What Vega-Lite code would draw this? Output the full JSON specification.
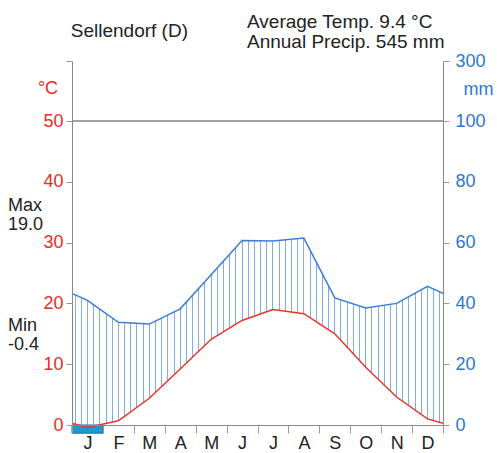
{
  "$schema": "https://vega.github.io/schema/vega-lite/v6.json",
  "width": 371,
  "height": 364,
  "autosize": "none",
  "padding": {"left": 72, "top": 61, "right": 54, "bottom": 28},
  "config": {"view": {"stroke": null}, "font": "Liberation Sans", "text": {"font": "Liberation Sans"}, "axis": {"labelOverlap": false, "labelFlush": false, "labelBound": false, "grid": false}},
  "data": {"values": [
    {"m": 0, "temp": 0.3, "precip": 43.3},
    {"m": 0.5, "temp": -0.4, "precip": 41.0},
    {"m": 1.5, "temp": 0.7, "precip": 33.8},
    {"m": 2.5, "temp": 4.4, "precip": 33.2},
    {"m": 3.5, "temp": 9.2, "precip": 38.2},
    {"m": 4.5, "temp": 14.1, "precip": 49.4},
    {"m": 5.5, "temp": 17.2, "precip": 60.7},
    {"m": 6.5, "temp": 19.0, "precip": 60.5},
    {"m": 7.5, "temp": 18.3, "precip": 61.5},
    {"m": 8.5, "temp": 15.0, "precip": 41.8},
    {"m": 9.5, "temp": 9.5, "precip": 38.5},
    {"m": 10.5, "temp": 4.6, "precip": 40.0},
    {"m": 11.5, "temp": 1.0, "precip": 45.6},
    {"m": 12, "temp": 0.3, "precip": 43.3}
  ]},
  "resolve": {"scale": {"y": "independent"}},
  "layer": [
    {
      "layer": [
        {
          "mark": {"type": "area", "line": false, "stroke": null, "fillOpacity": 1, "fill": {"gradient": "linear", "x1": 0, "y1": 0, "x2": 1, "y2": 0, "stops": [
            {"offset":0.00698,"color":"#ffffff"},{"offset":0.00698,"color":"#7eacea"},{"offset":0.00968,"color":"#7eacea"},{"offset":0.00968,"color":"#ffffff"},
            {"offset":0.02365,"color":"#ffffff"},{"offset":0.02365,"color":"#7eacea"},{"offset":0.02635,"color":"#7eacea"},{"offset":0.02635,"color":"#ffffff"},
            {"offset":0.04032,"color":"#ffffff"},{"offset":0.04032,"color":"#7eacea"},{"offset":0.04302,"color":"#7eacea"},{"offset":0.04302,"color":"#ffffff"},
            {"offset":0.05698,"color":"#ffffff"},{"offset":0.05698,"color":"#7eacea"},{"offset":0.05968,"color":"#7eacea"},{"offset":0.05968,"color":"#ffffff"},
            {"offset":0.07365,"color":"#ffffff"},{"offset":0.07365,"color":"#7eacea"},{"offset":0.07635,"color":"#7eacea"},{"offset":0.07635,"color":"#ffffff"},
            {"offset":0.09032,"color":"#ffffff"},{"offset":0.09032,"color":"#7eacea"},{"offset":0.09302,"color":"#7eacea"},{"offset":0.09302,"color":"#ffffff"},
            {"offset":0.10698,"color":"#ffffff"},{"offset":0.10698,"color":"#7eacea"},{"offset":0.10968,"color":"#7eacea"},{"offset":0.10968,"color":"#ffffff"},
            {"offset":0.12365,"color":"#ffffff"},{"offset":0.12365,"color":"#7eacea"},{"offset":0.12635,"color":"#7eacea"},{"offset":0.12635,"color":"#ffffff"},
            {"offset":0.14032,"color":"#ffffff"},{"offset":0.14032,"color":"#7eacea"},{"offset":0.14302,"color":"#7eacea"},{"offset":0.14302,"color":"#ffffff"},
            {"offset":0.15698,"color":"#ffffff"},{"offset":0.15698,"color":"#7eacea"},{"offset":0.15968,"color":"#7eacea"},{"offset":0.15968,"color":"#ffffff"},
            {"offset":0.17365,"color":"#ffffff"},{"offset":0.17365,"color":"#7eacea"},{"offset":0.17635,"color":"#7eacea"},{"offset":0.17635,"color":"#ffffff"},
            {"offset":0.19032,"color":"#ffffff"},{"offset":0.19032,"color":"#7eacea"},{"offset":0.19302,"color":"#7eacea"},{"offset":0.19302,"color":"#ffffff"},
            {"offset":0.20698,"color":"#ffffff"},{"offset":0.20698,"color":"#7eacea"},{"offset":0.20968,"color":"#7eacea"},{"offset":0.20968,"color":"#ffffff"},
            {"offset":0.22365,"color":"#ffffff"},{"offset":0.22365,"color":"#7eacea"},{"offset":0.22635,"color":"#7eacea"},{"offset":0.22635,"color":"#ffffff"},
            {"offset":0.24032,"color":"#ffffff"},{"offset":0.24032,"color":"#7eacea"},{"offset":0.24302,"color":"#7eacea"},{"offset":0.24302,"color":"#ffffff"},
            {"offset":0.25698,"color":"#ffffff"},{"offset":0.25698,"color":"#7eacea"},{"offset":0.25968,"color":"#7eacea"},{"offset":0.25968,"color":"#ffffff"},
            {"offset":0.27365,"color":"#ffffff"},{"offset":0.27365,"color":"#7eacea"},{"offset":0.27635,"color":"#7eacea"},{"offset":0.27635,"color":"#ffffff"},
            {"offset":0.29032,"color":"#ffffff"},{"offset":0.29032,"color":"#7eacea"},{"offset":0.29302,"color":"#7eacea"},{"offset":0.29302,"color":"#ffffff"},
            {"offset":0.30698,"color":"#ffffff"},{"offset":0.30698,"color":"#7eacea"},{"offset":0.30968,"color":"#7eacea"},{"offset":0.30968,"color":"#ffffff"},
            {"offset":0.32365,"color":"#ffffff"},{"offset":0.32365,"color":"#7eacea"},{"offset":0.32635,"color":"#7eacea"},{"offset":0.32635,"color":"#ffffff"},
            {"offset":0.34032,"color":"#ffffff"},{"offset":0.34032,"color":"#7eacea"},{"offset":0.34302,"color":"#7eacea"},{"offset":0.34302,"color":"#ffffff"},
            {"offset":0.35698,"color":"#ffffff"},{"offset":0.35698,"color":"#7eacea"},{"offset":0.35968,"color":"#7eacea"},{"offset":0.35968,"color":"#ffffff"},
            {"offset":0.37365,"color":"#ffffff"},{"offset":0.37365,"color":"#7eacea"},{"offset":0.37635,"color":"#7eacea"},{"offset":0.37635,"color":"#ffffff"},
            {"offset":0.39032,"color":"#ffffff"},{"offset":0.39032,"color":"#7eacea"},{"offset":0.39302,"color":"#7eacea"},{"offset":0.39302,"color":"#ffffff"},
            {"offset":0.40698,"color":"#ffffff"},{"offset":0.40698,"color":"#7eacea"},{"offset":0.40968,"color":"#7eacea"},{"offset":0.40968,"color":"#ffffff"},
            {"offset":0.42365,"color":"#ffffff"},{"offset":0.42365,"color":"#7eacea"},{"offset":0.42635,"color":"#7eacea"},{"offset":0.42635,"color":"#ffffff"},
            {"offset":0.44032,"color":"#ffffff"},{"offset":0.44032,"color":"#7eacea"},{"offset":0.44302,"color":"#7eacea"},{"offset":0.44302,"color":"#ffffff"},
            {"offset":0.45698,"color":"#ffffff"},{"offset":0.45698,"color":"#7eacea"},{"offset":0.45968,"color":"#7eacea"},{"offset":0.45968,"color":"#ffffff"},
            {"offset":0.47365,"color":"#ffffff"},{"offset":0.47365,"color":"#7eacea"},{"offset":0.47635,"color":"#7eacea"},{"offset":0.47635,"color":"#ffffff"},
            {"offset":0.49032,"color":"#ffffff"},{"offset":0.49032,"color":"#7eacea"},{"offset":0.49302,"color":"#7eacea"},{"offset":0.49302,"color":"#ffffff"},
            {"offset":0.50698,"color":"#ffffff"},{"offset":0.50698,"color":"#7eacea"},{"offset":0.50968,"color":"#7eacea"},{"offset":0.50968,"color":"#ffffff"},
            {"offset":0.52365,"color":"#ffffff"},{"offset":0.52365,"color":"#7eacea"},{"offset":0.52635,"color":"#7eacea"},{"offset":0.52635,"color":"#ffffff"},
            {"offset":0.54032,"color":"#ffffff"},{"offset":0.54032,"color":"#7eacea"},{"offset":0.54302,"color":"#7eacea"},{"offset":0.54302,"color":"#ffffff"},
            {"offset":0.55698,"color":"#ffffff"},{"offset":0.55698,"color":"#7eacea"},{"offset":0.55968,"color":"#7eacea"},{"offset":0.55968,"color":"#ffffff"},
            {"offset":0.57365,"color":"#ffffff"},{"offset":0.57365,"color":"#7eacea"},{"offset":0.57635,"color":"#7eacea"},{"offset":0.57635,"color":"#ffffff"},
            {"offset":0.59032,"color":"#ffffff"},{"offset":0.59032,"color":"#7eacea"},{"offset":0.59302,"color":"#7eacea"},{"offset":0.59302,"color":"#ffffff"},
            {"offset":0.60698,"color":"#ffffff"},{"offset":0.60698,"color":"#7eacea"},{"offset":0.60968,"color":"#7eacea"},{"offset":0.60968,"color":"#ffffff"},
            {"offset":0.62365,"color":"#ffffff"},{"offset":0.62365,"color":"#7eacea"},{"offset":0.62635,"color":"#7eacea"},{"offset":0.62635,"color":"#ffffff"},
            {"offset":0.64032,"color":"#ffffff"},{"offset":0.64032,"color":"#7eacea"},{"offset":0.64302,"color":"#7eacea"},{"offset":0.64302,"color":"#ffffff"},
            {"offset":0.65698,"color":"#ffffff"},{"offset":0.65698,"color":"#7eacea"},{"offset":0.65968,"color":"#7eacea"},{"offset":0.65968,"color":"#ffffff"},
            {"offset":0.67365,"color":"#ffffff"},{"offset":0.67365,"color":"#7eacea"},{"offset":0.67635,"color":"#7eacea"},{"offset":0.67635,"color":"#ffffff"},
            {"offset":0.69032,"color":"#ffffff"},{"offset":0.69032,"color":"#7eacea"},{"offset":0.69302,"color":"#7eacea"},{"offset":0.69302,"color":"#ffffff"},
            {"offset":0.70698,"color":"#ffffff"},{"offset":0.70698,"color":"#7eacea"},{"offset":0.70968,"color":"#7eacea"},{"offset":0.70968,"color":"#ffffff"},
            {"offset":0.72365,"color":"#ffffff"},{"offset":0.72365,"color":"#7eacea"},{"offset":0.72635,"color":"#7eacea"},{"offset":0.72635,"color":"#ffffff"},
            {"offset":0.74032,"color":"#ffffff"},{"offset":0.74032,"color":"#7eacea"},{"offset":0.74302,"color":"#7eacea"},{"offset":0.74302,"color":"#ffffff"},
            {"offset":0.75698,"color":"#ffffff"},{"offset":0.75698,"color":"#7eacea"},{"offset":0.75968,"color":"#7eacea"},{"offset":0.75968,"color":"#ffffff"},
            {"offset":0.77365,"color":"#ffffff"},{"offset":0.77365,"color":"#7eacea"},{"offset":0.77635,"color":"#7eacea"},{"offset":0.77635,"color":"#ffffff"},
            {"offset":0.79032,"color":"#ffffff"},{"offset":0.79032,"color":"#7eacea"},{"offset":0.79302,"color":"#7eacea"},{"offset":0.79302,"color":"#ffffff"},
            {"offset":0.80698,"color":"#ffffff"},{"offset":0.80698,"color":"#7eacea"},{"offset":0.80968,"color":"#7eacea"},{"offset":0.80968,"color":"#ffffff"},
            {"offset":0.82365,"color":"#ffffff"},{"offset":0.82365,"color":"#7eacea"},{"offset":0.82635,"color":"#7eacea"},{"offset":0.82635,"color":"#ffffff"},
            {"offset":0.84032,"color":"#ffffff"},{"offset":0.84032,"color":"#7eacea"},{"offset":0.84302,"color":"#7eacea"},{"offset":0.84302,"color":"#ffffff"},
            {"offset":0.85698,"color":"#ffffff"},{"offset":0.85698,"color":"#7eacea"},{"offset":0.85968,"color":"#7eacea"},{"offset":0.85968,"color":"#ffffff"},
            {"offset":0.87365,"color":"#ffffff"},{"offset":0.87365,"color":"#7eacea"},{"offset":0.87635,"color":"#7eacea"},{"offset":0.87635,"color":"#ffffff"},
            {"offset":0.89032,"color":"#ffffff"},{"offset":0.89032,"color":"#7eacea"},{"offset":0.89302,"color":"#7eacea"},{"offset":0.89302,"color":"#ffffff"},
            {"offset":0.90698,"color":"#ffffff"},{"offset":0.90698,"color":"#7eacea"},{"offset":0.90968,"color":"#7eacea"},{"offset":0.90968,"color":"#ffffff"},
            {"offset":0.92365,"color":"#ffffff"},{"offset":0.92365,"color":"#7eacea"},{"offset":0.92635,"color":"#7eacea"},{"offset":0.92635,"color":"#ffffff"},
            {"offset":0.94032,"color":"#ffffff"},{"offset":0.94032,"color":"#7eacea"},{"offset":0.94302,"color":"#7eacea"},{"offset":0.94302,"color":"#ffffff"},
            {"offset":0.95698,"color":"#ffffff"},{"offset":0.95698,"color":"#7eacea"},{"offset":0.95968,"color":"#7eacea"},{"offset":0.95968,"color":"#ffffff"},
            {"offset":0.97365,"color":"#ffffff"},{"offset":0.97365,"color":"#7eacea"},{"offset":0.97635,"color":"#7eacea"},{"offset":0.97635,"color":"#ffffff"},
            {"offset":0.99032,"color":"#ffffff"},{"offset":0.99032,"color":"#7eacea"},{"offset":0.99302,"color":"#7eacea"},{"offset":0.99302,"color":"#ffffff"}
          ]}},
          "encoding": {
            "x": {"field": "m", "type": "quantitative", "scale": {"domain": [0, 12], "nice": false, "zero": false},
              "axis": {"values": [0,1,2,3,4,5,6,7,8,9,10,11,12], "tickCount": 20, "labelExpr": "datum.value < 12 ? ['J','F','M','A','M','J','J','A','S','O','N','D'][datum.value] : ''", "labelOffset": 15.46, "labelFlush": false, "labelOverlap": false, "labelBound": false, "labelSeparation": 0, "labelFontSize": 18, "labelColor": "#222222", "labelPadding": 1, "tickSize": 8, "tickColor": "#999999", "domainColor": "#888888", "grid": false, "title": null, "zindex": 1}},
            "y": {"field": "precip", "type": "quantitative", "scale": {"domain": [0, 100, 300], "range": [364, 60, 0], "nice": false, "zero": false}},
            "y2": {"datum": 0}
          }
        },
        {
          "mark": {"type": "line", "color": "#3a7ed8", "strokeWidth": 1.5},
          "encoding": {
            "x": {"field": "m", "type": "quantitative", "scale": {"domain": [0, 12], "nice": false, "zero": false}},
            "y": {"field": "precip", "type": "quantitative", "scale": {"domain": [0, 100, 300], "range": [364, 60, 0], "nice": false, "zero": false},
              "axis": {"orient": "right", "values": [0, 20, 40, 60, 80, 100, 300], "tickCount": 20, "labelFontSize": 18, "labelColor": "#2a78d4", "labelPadding": 6, "tickSize": 6, "tickColor": "#999999", "domainColor": "#888888", "grid": false, "labelOverlap": false, "labelBound": false, "labelFlush": false, "zindex": 1,
                "title": "mm", "titleAngle": 0, "titleX": 35, "titleY": 28, "titleAlign": "center", "titleBaseline": "middle", "titleFontSize": 18, "titleFontWeight": "normal", "titleColor": "#2a78d4"}}
          }
        },
        {
          "data": {"values": [{"level": 100}]},
          "mark": {"type": "rule", "color": "#444444", "strokeWidth": 1},
          "encoding": {
            "x": {"datum": 0, "scale": {"domain": [0, 12], "nice": false, "zero": false}},
            "x2": {"datum": 12},
            "y": {"field": "level", "type": "quantitative", "scale": {"domain": [0, 100, 300], "range": [364, 60, 0], "nice": false, "zero": false}}
          }
        },
        {
          "data": {"values": [{"station": "Sellendorf (D)"}]},
          "mark": {"type": "text", "align": "left", "baseline": "alphabetic", "fontSize": 19, "color": "#222222"},
          "encoding": {
            "x": {"datum": -0.04, "scale": {"domain": [0, 12], "nice": false, "zero": false}},
            "y": {"datum": 380, "scale": {"domain": [0, 100, 300], "range": [364, 60, 0], "nice": false, "zero": false}},
            "text": {"field": "station"}
          }
        },
        {
          "data": {"values": [{"a": 1}]},
          "mark": {"type": "text", "align": "left", "baseline": "alphabetic", "fontSize": 19, "lineHeight": 20, "color": "#222222", "text": ["Average Temp. 9.4 °C", "Annual Precip. 545 mm"]},
          "encoding": {
            "x": {"datum": 5.66, "scale": {"domain": [0, 12], "nice": false, "zero": false}},
            "y": {"datum": 411, "scale": {"domain": [0, 100, 300], "range": [364, 60, 0], "nice": false, "zero": false}}
          }
        },
        {
          "data": {"values": [{"a": 1}]},
          "mark": {"type": "text", "align": "left", "baseline": "alphabetic", "fontSize": 18, "lineHeight": 19, "color": "#222222", "text": ["Max", "19.0"]},
          "encoding": {
            "x": {"datum": -2.07, "scale": {"domain": [0, 12], "nice": false, "zero": false}},
            "y": {"datum": 70.3, "scale": {"domain": [0, 100, 300], "range": [364, 60, 0], "nice": false, "zero": false}}
          }
        },
        {
          "data": {"values": [{"a": 1}]},
          "mark": {"type": "text", "align": "left", "baseline": "alphabetic", "fontSize": 18, "lineHeight": 19, "color": "#222222", "text": ["Min", "-0.4"]},
          "encoding": {
            "x": {"datum": -2.07, "scale": {"domain": [0, 12], "nice": false, "zero": false}},
            "y": {"datum": 30.8, "scale": {"domain": [0, 100, 300], "range": [364, 60, 0], "nice": false, "zero": false}}
          }
        }
      ]
    },
    {
      "layer": [
        {
          "mark": {"type": "area", "line": false, "color": "#ffffff", "fillOpacity": 1},
          "encoding": {
            "x": {"field": "m", "type": "quantitative", "scale": {"domain": [0, 12], "nice": false, "zero": false}},
            "y": {"field": "temp", "type": "quantitative", "scale": {"domain": [0, 50, 150], "range": [364, 60, 0], "nice": false, "zero": false}},
            "y2": {"datum": 0}
          }
        },
        {
          "data": {"values": [{"frost_start": 0, "frost_end": 1}]},
          "mark": {"type": "rect", "color": "#1d9ad3", "stroke": "#246f98", "strokeWidth": 1},
          "encoding": {
            "x": {"field": "frost_start", "type": "quantitative", "scale": {"domain": [0, 12], "nice": false, "zero": false}},
            "x2": {"field": "frost_end"},
            "y": {"datum": 0, "scale": {"domain": [0, 50, 150], "range": [364, 60, 0], "nice": false, "zero": false}},
            "y2": {"datum": -1.35}
          }
        },
        {
          "mark": {"type": "line", "color": "#e8352a", "strokeWidth": 1.5},
          "encoding": {
            "x": {"field": "m", "type": "quantitative", "scale": {"domain": [0, 12], "nice": false, "zero": false}},
            "y": {"field": "temp", "type": "quantitative", "scale": {"domain": [0, 50, 150], "range": [364, 60, 0], "nice": false, "zero": false},
              "axis": {"orient": "left", "values": [0, 10, 20, 30, 40, 50, 150], "tickCount": 20, "labelExpr": "datum.value > 100 ? '' : datum.label", "labelFontSize": 18, "labelColor": "#ee2a1e", "labelPadding": 3, "tickSize": 6, "tickColor": "#999999", "domainColor": "#888888", "grid": false, "labelOverlap": false, "labelBound": false, "labelFlush": false, "zindex": 1,
                "title": "°C", "titleAngle": 0, "titleX": -24.5, "titleY": 27, "titleAlign": "center", "titleBaseline": "middle", "titleFontSize": 18, "titleFontWeight": "normal", "titleColor": "#ee2a1e"}}
          }
        }
      ]
    }
  ]
}
